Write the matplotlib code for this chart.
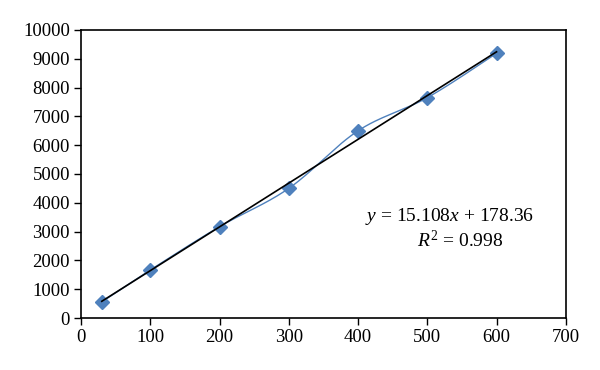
import matplotlib
matplotlib.use("Agg")
import matplotlib.pyplot as plt
import numpy as np

plt.rcParams['font.family'] = ['Liberation Serif', 'DejaVu Serif']
plt.rcParams['mathtext.fontset'] = 'custom'
plt.rcParams['mathtext.rm'] = 'Liberation Serif'
plt.rcParams['mathtext.it'] = 'Liberation Serif:italic'

# data
x = np.array([30, 100, 200, 300, 400, 500, 600])
y = np.array([560, 1667, 3170, 4500, 6500, 7650, 9190])

eq_text = "$y$ = 15.108$x$ + 178.36"
r2_text = "$R^2$ = 0.998"


def smooth(px, py, n=30):
    # catmull-rom style curve through the points (like excel's smoothed line)
    xs, ys = [], []
    P = np.column_stack([px, py]).astype(float)
    P = np.vstack([P[0], P, P[-1]])
    for i in range(1, len(P) - 2):
        p0, p1, p2, p3 = P[i - 1], P[i], P[i + 1], P[i + 2]
        c1 = p1 + (p2 - p0) / 6
        c2 = p2 - (p3 - p1) / 6
        t = np.linspace(0, 1, n)[:, None]
        b = (1 - t) ** 3 * p1 + 3 * (1 - t) ** 2 * t * c1 + 3 * (1 - t) * t ** 2 * c2 + t ** 3 * p2
        xs.extend(b[:, 0])
        ys.extend(b[:, 1])
    return np.array(xs), np.array(ys)


fig = plt.figure(figsize=(6, 3.7), dpi=100)
ax = fig.add_axes([0.135, 0.1405, 0.808, 0.7785])

sx, sy = smooth(x, y)
ax.plot(sx, sy, color='#4F81BD', lw=1.0, zorder=2)
ax.plot(x, y, linestyle='none', marker='D', markersize=7, color='#4F81BD', zorder=3)

# linear trendline
m, c = np.polyfit(x, y, 1)
ax.plot(x[[0, -1]], m * x[[0, -1]] + c, color='black', lw=1.2, zorder=4)

ax.text(532, 3507, eq_text, ha='center', va='center', fontsize=14)
ax.text(547, 2708, r2_text, ha='center', va='center', fontsize=14)

ax.set_xlim(0, 700)
ax.set_ylim(0, 10000)
ax.set_xticks(np.arange(0, 701, 100))
ax.set_yticks(np.arange(0, 10001, 1000))
ax.tick_params(direction='out', length=5, width=1, labelsize=13.5, pad=3)
for s in ax.spines.values():
    s.set_linewidth(1.2)

fig.savefig("out.png", dpi=100)
